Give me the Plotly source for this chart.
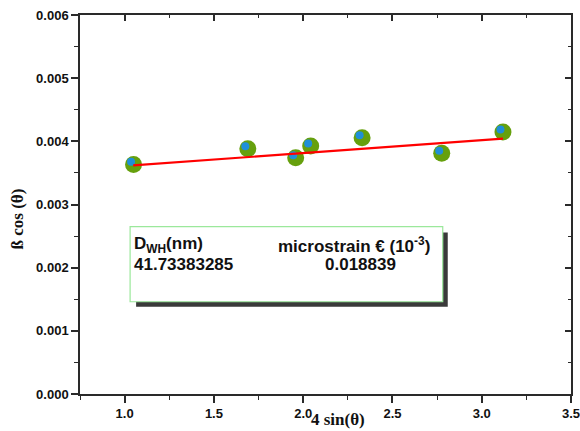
import plotly.graph_objects as go

# Data
x_vals = [1.050, 1.690, 1.958, 2.042, 2.330, 2.776, 3.119]
y_vals = [0.003635, 0.003884, 0.003741, 0.003926, 0.004058, 0.003810, 0.004148]
# inner blue dots (drawn slightly offset from the green circles in the original)
x_blue = [1.036, 1.676, 1.944, 2.028, 2.316, 2.762, 3.105]
y_blue = [0.003675, 0.003924, 0.003781, 0.003966, 0.004098, 0.003850, 0.004188]
# linear fit line endpoints
fit_x = [1.048, 3.119]
fit_y = [0.003619, 0.004043]

x_range = [0.75, 3.5]
y_range = [0.0, 0.006]
x_title = "4 sin(θ)"
y_title = "ß cos (θ)"
box_lines = [["D<sub>WH</sub>(nm)", "microstrain € (10<sup>-3</sup>)"],
             ["41.73383285", "0.018839"]]

fig = go.Figure()
fig.add_trace(go.Scatter(x=x_vals, y=y_vals, mode="markers",
                         marker=dict(size=17, color="#66a00d", line=dict(width=0)),
                         showlegend=False, hoverinfo="skip"))
fig.add_trace(go.Scatter(x=x_blue, y=y_blue, mode="markers",
                         marker=dict(size=8, color="#1f8fd8", line=dict(width=0)),
                         showlegend=False, hoverinfo="skip"))
fig.add_trace(go.Scatter(x=fit_x, y=fit_y, mode="lines",
                         line=dict(color="#ff0000", width=2.2),
                         showlegend=False, hoverinfo="skip"))
# invisible trace to activate mirror axes
fig.add_trace(go.Scatter(x=[None], y=[None], xaxis="x2", yaxis="y2",
                         showlegend=False, hoverinfo="skip"))

tickfont = dict(family="Liberation Sans, Arial", size=13, color="#111", weight="bold")
axcol = "#2a2a2a"

fig.update_layout(
    width=580, height=431,
    margin=dict(l=80, r=9, t=15, b=37),
    paper_bgcolor="white", plot_bgcolor="white",
    showlegend=False,
    xaxis=dict(range=x_range, showgrid=False, zeroline=False,
               showline=True, mirror=True, linecolor=axcol, linewidth=1.5,
               ticks="outside", ticklen=7, tickwidth=1.5, tickcolor=axcol,
               dtick=0.5, tick0=1.0, tickformat=".1f", tickfont=tickfont,
               ticklabeloverflow="allow", automargin=False,
               minor=dict(ticks="outside", ticklen=4, tickwidth=1.2, tickcolor=axcol,
                          dtick=0.25, tick0=0.75, showgrid=False)),
    yaxis=dict(range=y_range, showgrid=False, zeroline=False,
               showline=True, mirror=True, linecolor=axcol, linewidth=1.5,
               ticks="outside", ticklen=7, tickwidth=1.5, tickcolor=axcol,
               dtick=0.001, tick0=0, tickformat=".3f", tickfont=tickfont,
               ticklabeloverflow="allow", automargin=False,
               minor=dict(ticks="outside", ticklen=4, tickwidth=1.2, tickcolor=axcol,
                          dtick=0.0005, tick0=0, showgrid=False)),
    xaxis2=dict(range=x_range, overlaying="x", side="top", anchor="y2",
                showgrid=False, zeroline=False, showticklabels=False,
                showline=True, linecolor=axcol, linewidth=1.5,
                ticks="inside", ticklen=6, tickwidth=1.5, tickcolor=axcol,
                dtick=0.5, tick0=1.0,
                minor=dict(ticks="inside", ticklen=3, tickwidth=1.2, tickcolor=axcol,
                           dtick=0.25, tick0=0.75, showgrid=False)),
    yaxis2=dict(range=y_range, overlaying="y", side="right", anchor="x2",
                showgrid=False, zeroline=False, showticklabels=False,
                showline=True, linecolor=axcol, linewidth=1.5,
                ticks="inside", ticklen=6, tickwidth=1.5, tickcolor=axcol,
                dtick=0.001, tick0=0,
                minor=dict(ticks="inside", ticklen=3, tickwidth=1.2, tickcolor=axcol,
                           dtick=0.0005, tick0=0, showgrid=False)),
)

titlefont = dict(family="Liberation Serif, Times New Roman", size=17, color="#111", weight="bold")
fig.add_annotation(text=x_title, xref="paper", yref="paper",
                   x=(337 - 80) / 490, y=-(419 - 394) / 378,
                   showarrow=False, font=titlefont, xanchor="center", yanchor="middle")
fig.add_annotation(text=y_title, xref="paper", yref="paper",
                   x=-(80 - 18) / 490, y=(394 - 219) / 378, textangle=-90,
                   showarrow=False, font=titlefont, xanchor="center", yanchor="middle")

# text box with shadow
def px_x(p):
    return (p - 80) / 490

def px_y(p):
    return (394 - p) / 378

fig.add_shape(type="rect", xref="paper", yref="paper",
              x0=px_x(136), x1=px_x(447), y0=px_y(307), y1=px_y(233),
              fillcolor="#3a3a3a", line=dict(width=0), layer="above")
fig.add_shape(type="rect", xref="paper", yref="paper",
              x0=px_x(130), x1=px_x(442), y0=px_y(302), y1=px_y(227),
              fillcolor="white", line=dict(color="#9be89b", width=1.2), layer="above")

boxfont = dict(family="Liberation Sans, Arial", size=17, color="#111", weight="bold")
fig.add_annotation(text=box_lines[0][0], xref="paper", yref="paper",
                   x=px_x(132), y=px_y(245), xanchor="left", yanchor="middle",
                   showarrow=False, font=boxfont)
fig.add_annotation(text=box_lines[0][1], xref="paper", yref="paper",
                   x=px_x(276), y=px_y(245), xanchor="left", yanchor="middle",
                   showarrow=False, font=boxfont)
fig.add_annotation(text=box_lines[1][0], xref="paper", yref="paper",
                   x=px_x(132), y=px_y(265), xanchor="left", yanchor="middle",
                   showarrow=False, font=boxfont)
fig.add_annotation(text=box_lines[1][1], xref="paper", yref="paper",
                   x=px_x(360), y=px_y(265), xanchor="center", yanchor="middle",
                   showarrow=False, font=boxfont)

# remove the browser's default page margin so the 580x431 figure fills the window
fig.write_html("out.html",
               config={"displayModeBar": False},
               post_script="document.body.style.margin='0';document.body.style.overflow='hidden';")
